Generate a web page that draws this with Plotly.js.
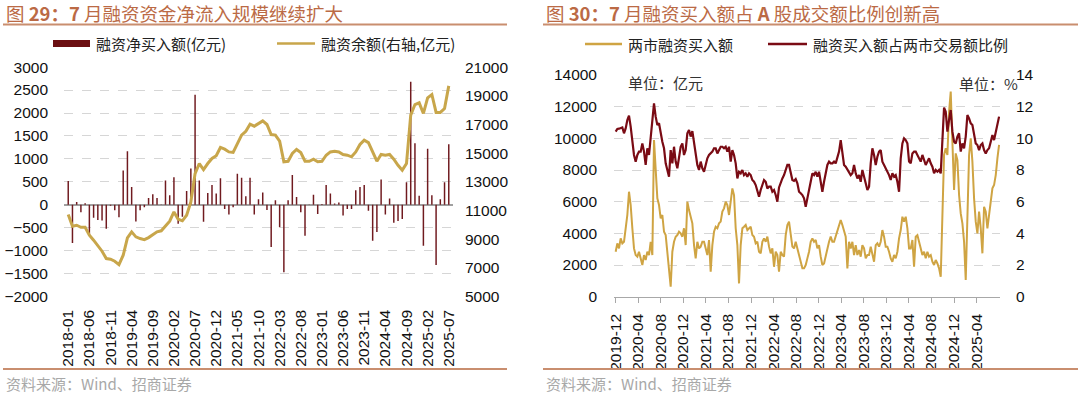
<!DOCTYPE html>
<html>
<head>
<meta charset="utf-8">
<script src="https://cdn.plot.ly/plotly-3.0.1.min.js"></script>
<style>
html,body{margin:0;padding:0;background:#ffffff;}
#chart{width:1080px;height:394px;}
</style>
</head>
<body>
<div id="chart"></div>
<script>
// ---------------- Data: left chart (monthly, 2018-01 .. 2025-07) ----------------
const leftStartYear = 2018, leftStartMonth = 1, leftMonthCount = 91;
const leftTickEvery = 5;
// 融资净买入额 (亿元)
const netBuy = [
  520, -830, 60, -160, 36, -660, -280, -330, -340, -520,
  -20, -120, -270, 750, 1170, 390, -360, -120, -50, 150,
  230, 150, 10, 530, 210, 600, -410, -260, 300, 790,
  2400, 530, -370, 260, 430, 250, 580, -90, -210, -50,
  680, 590, 190, 590, -210, 120, 270, -110, -920, 100,
  -490, -1470, 100, 650, 170, -160, -670, 10, 220, -200,
  20, 430, 250, 30, 50, -230, -90, -90, 320, 390,
  430, -130, -780, -590, 550, -210, 140, -390, -350, -310,
  490, 2680, 1340, 200, -890, 1220, 210, -1310, 120, 490,
  1320
];
// 融资余额 (右轴, 亿元)
const balance = [
  10730, 9910, 9980, 9840, 9840, 9290, 8940, 8590, 8170, 7660,
  7610, 7470, 7240, 7890, 9100, 9520, 9170, 9050, 8980, 9120,
  9290, 9520, 9590, 9940, 10260, 10910, 10400, 10290, 10680, 11610,
  13580, 14280, 13860, 14280, 14630, 14820, 15400, 15280, 15090, 15050,
  15610, 16260, 16530, 17020, 16880, 17070, 17250, 17000, 16300, 16260,
  15840, 14400, 14440, 14980, 15260, 15050, 14440, 14440, 14580, 14400,
  14440, 14860, 15090, 15140, 15090, 14910, 14860, 14750, 15090, 15610,
  15910, 15740, 15090, 14440, 14910, 14860, 14910, 14580, 14160, 13820,
  14280, 17650, 18390, 18510, 17770, 18860, 19090, 17840, 17840, 18110,
  19690
];

// ---------------- Data: right chart (sampled every 9 days from 2019-12-01) ----------------
const rightStartDate = '2019-12-01';
const rightStepDays = 9;
// 两市融资买入额 (亿元)
const buyAmount = [
  2840,3370,3050,3680,3370,3470,4320,5160,6630,5790,
  4320,3050,2630,2530,2840,2420,2000,2630,2320,2840,
  2630,3470,2630,9890,7890,6210,5790,4950,5160,4100,
  3890,2840,1790,630,2840,3470,3790,3890,4100,4000,
  3790,4320,3260,6000,5470,4950,4630,3260,2420,3470,
  3050,3160,3470,3470,3050,2630,3580,1580,3260,4100,
  4420,4320,4630,4740,5370,5580,6000,5790,5160,6000,
  6840,6420,4320,3260,840,3260,4320,4420,4530,4210,
  4320,4420,3890,3790,3370,3470,2840,2740,3470,3680,
  3470,3790,3160,2740,3050,1890,2840,2630,1580,2840,
  2630,2530,3890,4530,4740,3890,3160,3050,3470,3050,
  2630,2100,1790,1790,2000,2420,2840,3470,3680,3470,
  3580,3050,3260,2530,2000,2100,2630,3050,3470,3790,
  3470,3470,3790,4210,4530,4840,4530,4100,3790,1790,
  3470,3050,3470,2630,3260,2630,2950,2530,3260,3050,
  2420,2630,2630,3160,2630,2210,3260,3370,3160,3470,
  4210,3790,3160,3160,2840,2420,2210,2630,2420,2840,
  3680,4210,5050,4740,5050,4320,3050,3050,3580,1890,
  3790,3890,3470,3050,2630,2840,2420,2840,2530,2630,
  2210,2000,2320,2100,1790,1260,5160,8950,9370,8950,
  11680,12950,9790,6740,9050,8630,6420,5260,4630,3470,
  1050,5790,8950,10000,8530,6210,4740,4000,5370,4320,
  2740,5680,5370,4320,5260,6000,6840,7050,7680,8740,
  9580
];
// 融资买入额占两市交易额比例 (%)
const buyRatio = [
  10.42,10.59,10.61,10.63,10.69,10.32,10.63,11.16,11.43,10.74,
  9.58,8.95,8.53,8.95,9.16,9.16,9.68,9.16,8.32,9.37,
  8.95,10.21,11.37,12.21,11.37,10.84,10.95,10.21,9.79,9.37,
  8.42,8.0,7.58,9.26,8.42,9.47,8.53,8.11,8.95,9.47,
  9.68,8.95,9.26,10.32,10.53,10.11,10.46,9.68,8.95,8.32,
  8.0,8.53,8.11,7.89,8.32,8.74,8.95,9.05,9.16,9.37,
  9.37,9.05,9.26,9.47,9.47,9.37,9.47,9.16,9.47,8.53,
  9.26,8.95,8.42,7.47,7.89,7.79,8.0,7.68,7.79,7.58,
  7.79,7.68,7.37,7.26,7.05,6.74,6.32,6.74,7.05,7.37,
  7.26,6.84,6.95,6.95,6.63,6.74,6.42,6.0,6.9,7.26,
  7.47,7.68,8.0,8.32,8.32,7.89,7.37,7.31,7.43,7.16,
  6.63,6.53,6.42,6.21,5.68,6.21,6.84,7.26,7.79,7.68,
  7.89,7.58,7.89,7.26,6.63,7.26,7.89,8.32,8.53,8.42,
  8.42,8.53,8.42,8.74,9.16,9.89,9.16,8.32,8.21,8.0,
  7.89,7.68,7.79,8.32,7.79,7.47,7.68,7.26,8.0,7.47,
  7.16,6.74,6.95,8.42,9.37,8.95,8.32,8.84,9.16,9.26,
  8.53,8.32,8.11,7.89,7.68,7.37,7.79,7.58,7.68,7.26,
  6.63,8.74,9.68,10.0,9.89,9.68,8.53,8.42,9.05,9.16,
  9.16,8.95,8.74,8.53,8.95,8.63,8.32,8.53,8.74,8.42,
  8.21,7.79,8.0,7.89,8.0,7.79,10.0,11.94,11.68,10.42,
  11.16,11.79,10.42,9.79,9.68,10.11,10.32,9.16,9.68,9.37,
  10.11,11.47,11.26,10.95,10.84,10.21,9.68,9.58,9.26,9.58,
  9.68,9.26,9.05,9.26,9.37,9.79,10.21,9.89,10.42,10.84,
  11.37
];
const rightTickDates = ['2019-12-01','2020-04-01','2020-08-01','2020-12-01','2021-04-01','2021-08-01',
  '2021-12-01','2022-04-01','2022-08-01','2022-12-01','2023-04-01','2023-08-01','2023-12-01',
  '2024-04-01','2024-08-01','2024-12-01','2025-04-01'];

// ---------------- Texts ----------------
const leftTitle = '图 <b>29：7</b> 月融资资金净流入规模继续扩大';
const rightTitle = '图 <b>30：7</b> 月融资买入额占 <b>A</b> 股成交额比例创新高';
const sourceText = '资料来源：Wind、招商证券';
const nameNetBuy = '融资净买入额(亿元)';
const nameBalance = '融资余额(右轴,亿元)';
const nameAmount = '两市融资买入额';
const nameRatio = '融资买入额占两市交易额比例';
const unitLeft = '单位：亿元';
const unitRight = '单位：%';

// ---------------- Derived x values ----------------
const months = [];
for (let i = 0; i < leftMonthCount; i++) {
  const m0 = leftStartMonth - 1 + i;
  const y = leftStartYear + Math.floor(m0 / 12);
  const m = (m0 % 12) + 1;
  months.push(y + '-' + (m < 10 ? '0' + m : m));
}
const monthTicks = months.filter((d, i) => i % leftTickEvery === 0);

function seriesDates(n) {
  const t0 = Date.parse(rightStartDate + 'T00:00:00Z');
  const out = [];
  for (let i = 0; i < n; i++) {
    out.push(new Date(t0 + i * rightStepDays * 86400000).toISOString().slice(0, 10));
  }
  return out;
}

// ---------------- Styling helpers ----------------
const W = 1080, H = 394;
const fx = px => px / W;
const fy = py => 1 - py / H;
const FONT = 'Liberation Sans, Arial, Noto Sans CJK SC, sans-serif';
const CJK = 'Noto Sans CJK SC, Liberation Sans, sans-serif';
const TITLE_COLOR = '#bb6a45';
const RULE_COLOR = '#c98e6f';
const BAR_COLOR = '#701a1f';
const GOLD_L = '#c8a64b';
const GOLD_R = '#cfa443';
const RED_R = '#7a0b14';
const GRID = '#d6d6d6';

const traces = [
  { type: 'bar', x: months, y: netBuy, xaxis: 'x', yaxis: 'y', name: nameNetBuy,
    marker: { color: BAR_COLOR }, width: 0.35, hoverinfo: 'skip' },
  { type: 'scatter', mode: 'lines', x: months, y: balance, xaxis: 'x', yaxis: 'y2', name: nameBalance,
    line: { color: GOLD_L, width: 3 }, hoverinfo: 'skip' },
  { type: 'scatter', mode: 'lines', x: seriesDates(buyAmount.length), y: buyAmount, xaxis: 'x2', yaxis: 'y3',
    name: nameAmount, line: { color: GOLD_R, width: 2 }, hoverinfo: 'skip' },
  { type: 'scatter', mode: 'lines', x: seriesDates(buyRatio.length), y: buyRatio, xaxis: 'x2', yaxis: 'y4',
    name: nameRatio, line: { color: RED_R, width: 2.2 }, hoverinfo: 'skip' }
];

const tickFont = { family: FONT, size: 15.5, color: '#111' };

const layout = {
  width: W, height: H,
  margin: { l: 0, r: 0, t: 0, b: 0, pad: 0 },
  paper_bgcolor: '#ffffff', plot_bgcolor: 'rgba(0,0,0,0)',
  showlegend: false,
  font: { family: FONT, size: 15.5, color: '#111' },
  xaxis: {
    domain: [fx(64), fx(453)], anchor: 'y', type: 'category',
    range: [-1, leftMonthCount], tickmode: 'array', tickvals: monthTicks,
    tickangle: -90, tickfont: tickFont, showgrid: false, showline: false,
    zeroline: false, ticks: '', ticklabelstandoff: 9
  },
  yaxis: {
    domain: [fy(296.7), fy(67.1)], anchor: 'x', range: [-2000, 3000], tick0: 0, dtick: 500,
    tickformat: 'd', tickfont: tickFont, showgrid: true, gridcolor: GRID, griddash: 'dash', gridwidth: 1,
    zeroline: true, zerolinecolor: '#a0a0a0', zerolinewidth: 1.5,
    showline: false, ticks: '', ticklabelstandoff: 15
  },
  yaxis2: {
    overlaying: 'y', side: 'right', anchor: 'x', range: [5000, 21000], tick0: 5000, dtick: 2000,
    tickformat: 'd', tickfont: tickFont, showgrid: false, zeroline: false, showline: false, ticks: '',
    ticklabelstandoff: 11
  },
  xaxis2: {
    domain: [fx(614), fx(1000)], anchor: 'y3', type: 'date',
    range: ['2019-11-22', '2025-08-06'], tickmode: 'array', tickvals: rightTickDates,
    tickformat: '%Y-%m', tickangle: -90, tickfont: tickFont, showgrid: false,
    showline: true, linecolor: '#a8a8a8', linewidth: 1, ticks: 'outside', ticklen: 5,
    tickcolor: '#a8a8a8', zeroline: false, ticklabelstandoff: 5
  },
  yaxis3: {
    domain: [fy(296.7), fy(75)], anchor: 'x2', range: [0, 14000], tick0: 0, dtick: 2000,
    tickformat: 'd', tickfont: tickFont, showgrid: true, gridcolor: GRID, griddash: 'dash', gridwidth: 1,
    zeroline: false, showline: false, ticks: '', ticklabelstandoff: 16
  },
  yaxis4: {
    overlaying: 'y3', side: 'right', anchor: 'x2', range: [0, 14], tick0: 0, dtick: 2,
    tickformat: 'd', tickfont: tickFont, showgrid: false, zeroline: false, showline: false, ticks: '',
    ticklabelstandoff: 15
  },
  shapes: [
    { type: 'line', xref: 'paper', yref: 'paper', x0: fx(3), x1: fx(507), y0: fy(24.5), y1: fy(24.5), line: { color: RULE_COLOR, width: 2 } },
    { type: 'line', xref: 'paper', yref: 'paper', x0: fx(3), x1: fx(507), y0: fy(369), y1: fy(369), line: { color: RULE_COLOR, width: 2 } },
    { type: 'line', xref: 'paper', yref: 'paper', x0: fx(543), x1: fx(1078), y0: fy(24.5), y1: fy(24.5), line: { color: RULE_COLOR, width: 2 } },
    { type: 'line', xref: 'paper', yref: 'paper', x0: fx(543), x1: fx(1078), y0: fy(369), y1: fy(369), line: { color: RULE_COLOR, width: 2 } },
    // legend swatches
    { type: 'rect', xref: 'paper', yref: 'paper', x0: fx(53), x1: fx(90), y0: fy(47), y1: fy(40), fillcolor: '#6b0f12', line: { width: 0 } },
    { type: 'line', xref: 'paper', yref: 'paper', x0: fx(277), x1: fx(315), y0: fy(43.5), y1: fy(43.5), line: { color: GOLD_L, width: 2.5 } },
    { type: 'line', xref: 'paper', yref: 'paper', x0: fx(585), x1: fx(622), y0: fy(44), y1: fy(44), line: { color: GOLD_R, width: 2.5 } },
    { type: 'line', xref: 'paper', yref: 'paper', x0: fx(768), x1: fx(807), y0: fy(44), y1: fy(44), line: { color: RED_R, width: 2.5 } }
  ],
  annotations: [
    { text: leftTitle, x: fx(4), y: fy(13), font: { family: CJK, size: 18.5, color: TITLE_COLOR } },
    { text: rightTitle, x: fx(544), y: fy(13), font: { family: CJK, size: 18.5, color: TITLE_COLOR } },
    { text: sourceText, x: fx(4), y: fy(383), font: { family: CJK, size: 15, color: '#a8a8a8' } },
    { text: sourceText, x: fx(544), y: fy(383), font: { family: CJK, size: 15, color: '#a8a8a8' } },
    { text: nameNetBuy, x: fx(94), y: fy(43.5), font: { family: CJK, size: 15, color: '#222' } },
    { text: nameBalance, x: fx(319), y: fy(43.5), font: { family: CJK, size: 15, color: '#222' } },
    { text: nameAmount, x: fx(626), y: fy(44), font: { family: CJK, size: 15, color: '#222' } },
    { text: nameRatio, x: fx(811), y: fy(44), font: { family: CJK, size: 15, color: '#222' } },
    { text: unitLeft, x: fx(626), y: fy(82), font: { family: CJK, size: 15, color: '#333' } },
    { text: unitRight, x: fx(957), y: fy(84), font: { family: CJK, size: 15, color: '#333' } }
  ].map(a => Object.assign({ xref: 'paper', yref: 'paper', showarrow: false, xanchor: 'left', yanchor: 'middle' }, a))
};

Plotly.newPlot('chart', traces, layout, { staticPlot: true, displayModeBar: false, responsive: false });
</script>
</body>
</html>
